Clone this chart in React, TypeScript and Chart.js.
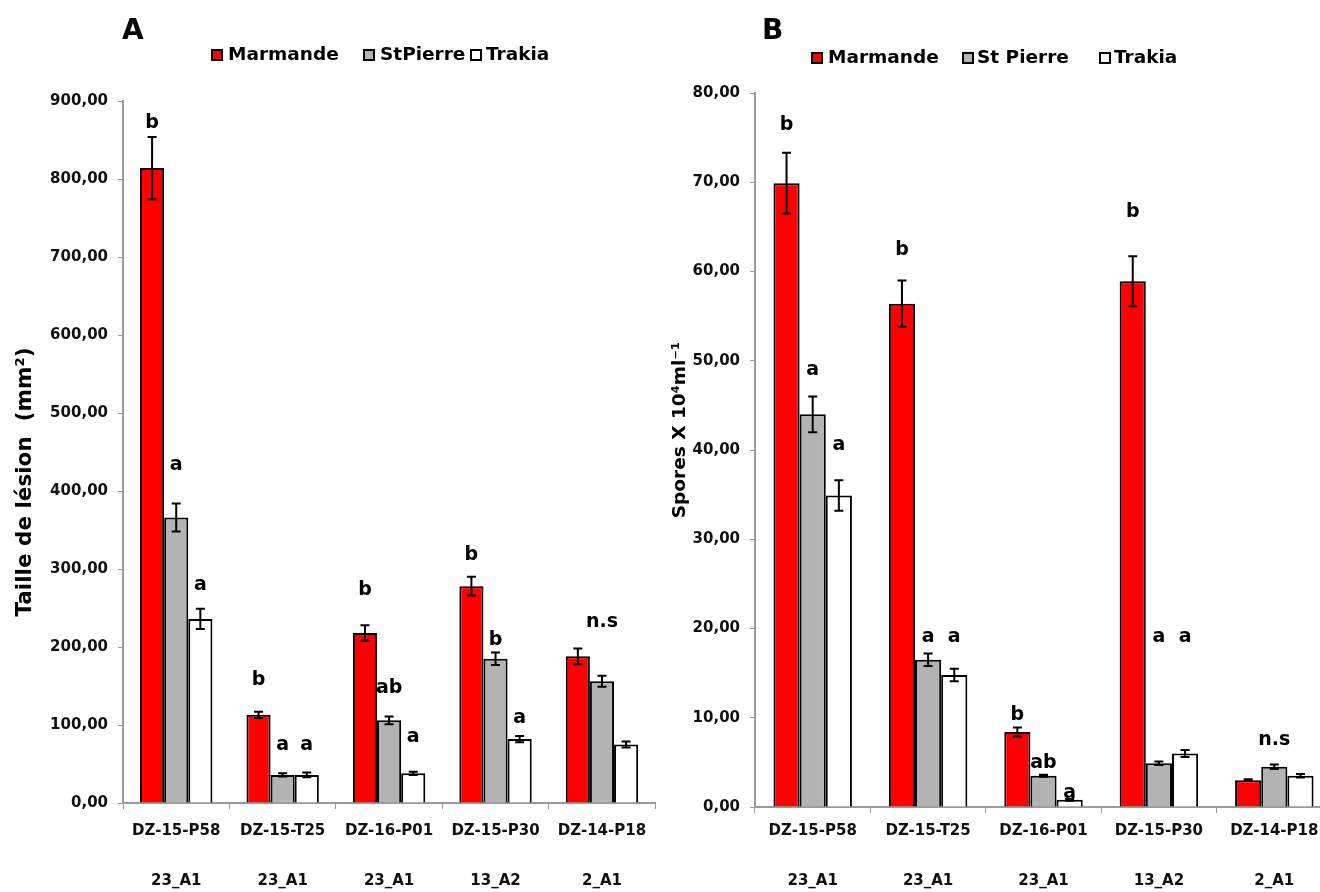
import React, { useEffect, useRef } from 'react';
import { Chart, registerables } from 'chart.js';

Chart.register(...registerables);

// ---------- DATA ----------
const CATEGORIES = ['DZ-15-P58', 'DZ-15-T25', 'DZ-16-P01', 'DZ-15-P30', 'DZ-14-P18'];
const GROUPS = ['23_A1', '23_A1', '23_A1', '13_A2', '2_A1'];

// Panel A : Taille de lésion (mm²)
const A_MARMANDE = [814, 113, 218, 278, 188];
const A_MARMANDE_ERR = [40, 4, 10, 12, 10];
const A_STPIERRE = [366, 36, 106, 185, 156];
const A_STPIERRE_ERR = [18, 2, 5, 8, 7];
const A_TRAKIA = [236, 36, 38, 82, 75];
const A_TRAKIA_ERR = [13, 3, 2, 4, 4];
const A_LETTERS_MARMANDE = ['b', 'b', 'b', 'b', ''];
const A_LETTERS_STPIERRE = ['a', 'a', 'ab', 'b', 'n.s'];
const A_LETTERS_TRAKIA = ['a', 'a', 'a', 'a', ''];
const A_LETTER_AT_MARMANDE = [872, 158, 273, 318, null];
const A_LETTER_AT_STPIERRE = [433, 74, 147, 209, 232];
const A_LETTER_AT_TRAKIA = [279, 74, 85, 109, null];
const A_LEGEND = ['Marmande', 'StPierre', 'Trakia'];

// Panel B : Spores X 10^4 ml-1
const B_MARMANDE = [69.9, 56.4, 8.4, 58.9, 3.0];
const B_MARMANDE_ERR = [3.4, 2.6, 0.5, 2.8, 0.1];
const B_STPIERRE = [44.0, 16.5, 3.5, 4.9, 4.5];
const B_STPIERRE_ERR = [2.0, 0.7, 0.1, 0.2, 0.25];
const B_TRAKIA = [34.9, 14.8, 0.8, 6.0, 3.5];
const B_TRAKIA_ERR = [1.7, 0.7, 0.1, 0.4, 0.2];
const B_LETTERS_MARMANDE = ['b', 'b', 'b', 'b', ''];
const B_LETTERS_STPIERRE = ['a', 'a', 'ab', 'a', 'n.s'];
const B_LETTERS_TRAKIA = ['a', 'a', 'a', 'a', ''];
const B_LETTER_AT_MARMANDE = [76.4, 62.4, 10.3, 66.7, null];
const B_LETTER_AT_STPIERRE = [49.0, 19.0, 4.9, 19.0, 7.5];
const B_LETTER_AT_TRAKIA = [40.6, 19.0, 1.6, 19.0, null];
const B_LEGEND = ['Marmande', 'St Pierre', 'Trakia'];

const COLORS = ['#FF0000', '#B3B3B3', '#FFFFFF'];
const FONT = '"DejaVu Sans", "Liberation Sans", Arial, sans-serif';

type PanelCfg = {
  id: string;
  panelLetter: string;
  yTitle: string;
  yMax: number;
  yStep: number;
  series: number[][];
  errs: number[][];
  letters: string[][];
  anchors: (number | null)[][];
  legend: string[];
  width: number;
  height: number;
  padTop: number;
  padRight: number;
  yAxisWidth: number;
  xAxisHeight: number;
  tickPad: number;
  titleX: number;
  titleY: number;
  yTitleX: number;
  yTitleY: number;
  yTitleSize: number;
  legendY: number;
  legendSq: number[];
  legendTx: number[];
};

function makePlugin(p: PanelCfg) {
  return {
    id: 'annot' + p.id,
    afterDatasetsDraw(chart: any) {
      const ctx = chart.ctx as CanvasRenderingContext2D;
      const ys = chart.scales.y;
      ctx.save();
      chart.data.datasets.forEach((_ds: any, i: number) => {
        const meta = chart.getDatasetMeta(i);
        meta.data.forEach((el: any, j: number) => {
          const v = p.series[i][j];
          const e = p.errs[i][j];
          const x = el.x;
          const y1 = ys.getPixelForValue(v + e);
          const y2 = ys.getPixelForValue(v - e);
          ctx.strokeStyle = '#000';
          ctx.lineWidth = 2;
          ctx.beginPath();
          ctx.moveTo(x, y1);
          ctx.lineTo(x, y2);
          ctx.moveTo(x - 4.5, y1);
          ctx.lineTo(x + 4.5, y1);
          ctx.moveTo(x - 4.5, y2);
          ctx.lineTo(x + 4.5, y2);
          ctx.stroke();
          const t = p.letters[i][j];
          const a = p.anchors[i][j];
          if (t && a != null) {
            ctx.font = `bold 19px ${FONT}`;
            ctx.textAlign = 'center';
            ctx.textBaseline = 'middle';
            ctx.fillStyle = '#000';
            ctx.fillText(t, x, ys.getPixelForValue(a));
          }
        });
      });
      ctx.restore();
    },
    afterDraw(chart: any) {
      const ctx = chart.ctx as CanvasRenderingContext2D;
      ctx.save();
      ctx.fillStyle = '#000';
      ctx.font = `bold 28px ${FONT}`;
      ctx.textAlign = 'left';
      ctx.textBaseline = 'middle';
      ctx.fillText(p.panelLetter, p.titleX, p.titleY);
      ctx.save();
      ctx.translate(p.yTitleX, p.yTitleY);
      ctx.rotate(-Math.PI / 2);
      ctx.font = `bold ${p.yTitleSize}px ${FONT}`;
      ctx.textAlign = 'center';
      ctx.textBaseline = 'middle';
      ctx.fillText(p.yTitle, 0, 0);
      ctx.restore();
      p.legend.forEach((name, k) => {
        const sx = p.legendSq[k];
        ctx.fillStyle = COLORS[k];
        ctx.fillRect(sx, p.legendY - 5, 10, 10);
        ctx.strokeStyle = '#000';
        ctx.lineWidth = 2;
        ctx.strokeRect(sx, p.legendY - 5, 10, 10);
        ctx.fillStyle = '#000';
        ctx.font = `bold 18.5px ${FONT}`;
        ctx.textAlign = 'left';
        ctx.textBaseline = 'middle';
        ctx.fillText(name, p.legendTx[k], p.legendY);
      });
      ctx.restore();
    },
  };
}

function Panel({ cfg, left }: { cfg: PanelCfg; left: number }) {
  const ref = useRef<HTMLCanvasElement | null>(null);
  useEffect(() => {
    if (!ref.current) return;
    const chart = new Chart(ref.current, {
      type: 'bar',
      data: {
        labels: CATEGORIES.map((c, i) => [c, '', '', GROUPS[i]]),
        datasets: cfg.legend.map((name, k) => ({
          label: name,
          data: cfg.series[k],
          backgroundColor: COLORS[k],
          borderColor: '#000',
          borderWidth: 2,
          categoryPercentage: 0.68,
          barPercentage: 1.0,
        })),
      },
      options: {
        responsive: false,
        maintainAspectRatio: false,
        animation: false,
        devicePixelRatio: 1,
        layout: { padding: { top: cfg.padTop, right: cfg.padRight, bottom: 0, left: 0 } },
        plugins: { legend: { display: false }, tooltip: { enabled: false }, title: { display: false } },
        scales: {
          x: {
            afterFit: (s: any) => {
              s.height = cfg.xAxisHeight;
            },
            grid: { offset: true, drawOnChartArea: false, drawTicks: true, tickLength: 6, color: '#9a9a9a', lineWidth: 1 },
            border: { display: true, color: '#9a9a9a', width: 2 },
            ticks: {
              color: '#111',
              padding: cfg.tickPad,
              autoSkip: false,
              maxRotation: 0,
              font: { family: FONT, size: 15, weight: 'bold', lineHeight: 1.113 },
            },
          },
          y: {
            min: 0,
            max: cfg.yMax,
            afterFit: (s: any) => {
              s.width = cfg.yAxisWidth;
            },
            grid: { drawOnChartArea: false, drawTicks: true, tickLength: 5, color: '#9a9a9a', lineWidth: 1 },
            border: { display: true, color: '#9a9a9a', width: 2 },
            ticks: {
              stepSize: cfg.yStep,
              color: '#111',
              padding: 10,
              font: { family: FONT, size: 15, weight: 'bold' },
              callback: (v: any) => Number(v).toFixed(2).replace('.', ','),
            },
          },
        },
      } as any,
      plugins: [makePlugin(cfg)],
    });
    return () => chart.destroy();
  }, [cfg]);
  return (
    <canvas
      ref={ref}
      width={cfg.width}
      height={cfg.height}
      style={{ position: 'absolute', left, top: 0, width: cfg.width, height: cfg.height }}
    />
  );
}

const PANEL_A: PanelCfg = {
  id: 'A',
  panelLetter: 'A',
  yTitle: 'Taille de lésion  (mm²)',
  yMax: 900,
  yStep: 100,
  series: [A_MARMANDE, A_STPIERRE, A_TRAKIA],
  errs: [A_MARMANDE_ERR, A_STPIERRE_ERR, A_TRAKIA_ERR],
  letters: [A_LETTERS_MARMANDE, A_LETTERS_STPIERRE, A_LETTERS_TRAKIA],
  anchors: [A_LETTER_AT_MARMANDE, A_LETTER_AT_STPIERRE, A_LETTER_AT_TRAKIA],
  legend: A_LEGEND,
  width: 660,
  height: 892,
  padTop: 101,
  padRight: 3,
  yAxisWidth: 123,
  xAxisHeight: 89,
  tickPad: 13.6,
  titleX: 122,
  titleY: 32,
  yTitleX: 25,
  yTitleY: 482,
  yTitleSize: 21.5,
  legendY: 55,
  legendSq: [212, 364, 471],
  legendTx: [228, 380, 486],
};

const PANEL_B: PanelCfg = {
  id: 'B',
  panelLetter: 'B',
  yTitle: 'Spores X 10⁴ml⁻¹',
  yMax: 80,
  yStep: 10,
  series: [B_MARMANDE, B_STPIERRE, B_TRAKIA],
  errs: [B_MARMANDE_ERR, B_STPIERRE_ERR, B_TRAKIA_ERR],
  letters: [B_LETTERS_MARMANDE, B_LETTERS_STPIERRE, B_LETTERS_TRAKIA],
  anchors: [B_LETTER_AT_MARMANDE, B_LETTER_AT_STPIERRE, B_LETTER_AT_TRAKIA],
  legend: B_LEGEND,
  width: 690,
  height: 892,
  padTop: 93,
  padRight: 18,
  yAxisWidth: 95,
  xAxisHeight: 85,
  tickPad: 9.6,
  titleX: 102,
  titleY: 32,
  yTitleX: 20,
  yTitleY: 430,
  yTitleSize: 18.5,
  legendY: 58,
  legendSq: [152, 303, 440],
  legendTx: [168, 317, 454],
};

export default function App() {
  return (
    <div
      style={{
        position: 'fixed',
        left: 0,
        top: 0,
        width: 1320,
        height: 892,
        overflow: 'hidden',
        background: '#fff',
      }}
    >
      <Panel cfg={PANEL_A} left={0} />
      <Panel cfg={PANEL_B} left={660} />
    </div>
  );
}
